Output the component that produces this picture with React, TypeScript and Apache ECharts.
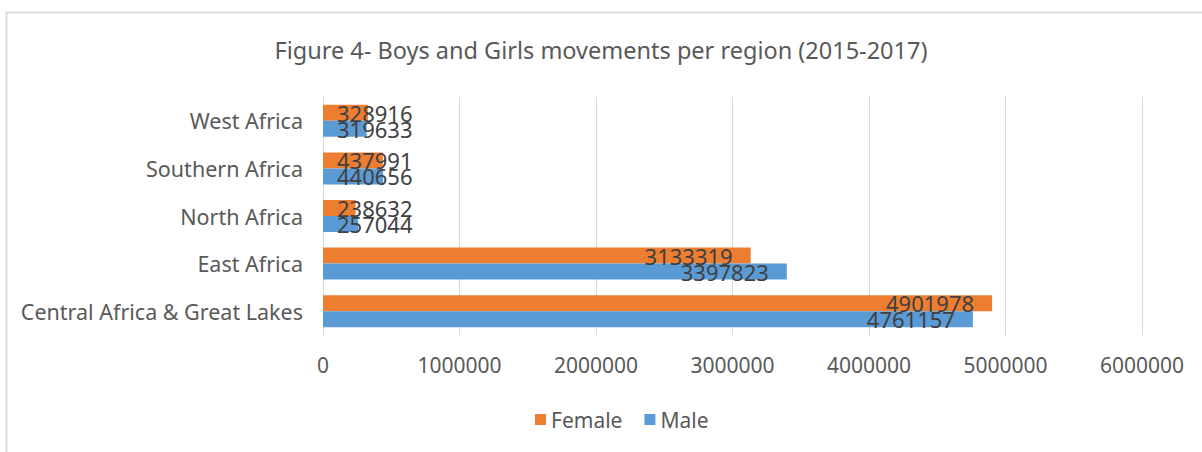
import React, { useEffect, useRef } from "react";
import * as echarts from "echarts";

const regions = ["West Africa", "Southern Africa", "North Africa", "East Africa", "Central Africa & Great Lakes"];
const female = [328916, 437991, 238632, 3133319, 4901978];
const male = [319633, 440656, 257044, 3397823, 4761157];
const xTicks = [0, 1000000, 2000000, 3000000, 4000000, 5000000, 6000000];
const title = "Figure 4- Boys and Girls movements per region (2015-2017)";

const FONT = "Noto Sans";
const TEXT = "#595959";

function labelFor(v: number) {
  const small = v < 1500000;
  return {
    show: true,
    position: small ? "insideLeft" : "insideRight",
    distance: small ? 14 : 18,
    color: "#404040",
    fontFamily: FONT,
    fontSize: 22,
    formatter: "{c}",
  };
}

export default function App() {
  const ref = useRef<HTMLDivElement>(null);
  useEffect(() => {
    const chart = echarts.init(ref.current!, undefined, { renderer: "svg" });
    chart.setOption({
      animation: false,
      backgroundColor: "#ffffff",
      title: {
        text: title,
        left: "center",
        top: 33,
        textStyle: { fontFamily: FONT, fontSize: 23.5, fontWeight: "normal", color: TEXT },
      },
      legend: {
        bottom: 17,
        left: 530,
        itemWidth: 11,
        itemHeight: 11,
        itemGap: 22,
        icon: "rect",
        textStyle: { fontFamily: FONT, fontSize: 21, color: TEXT },
        data: ["Female", "Male"],
      },
      grid: { left: 323, right: 60, top: 97, bottom: 117, containLabel: false },
      xAxis: {
        type: "value",
        min: xTicks[0],
        max: xTicks[xTicks.length - 1],
        interval: xTicks[1] - xTicks[0],
        axisLine: { show: false },
        axisTick: { show: false },
        splitLine: { show: true, lineStyle: { color: "#d9d9d9", width: 1 } },
        axisLabel: {
          fontFamily: FONT,
          fontSize: 21,
          color: TEXT,
          margin: 19,
          formatter: (v: number) => String(v),
        },
      },
      yAxis: {
        type: "category",
        data: regions,
        inverse: true,
        axisLine: { show: true, lineStyle: { color: "#d9d9d9" } },
        axisTick: { show: false },
        axisLabel: { fontFamily: FONT, fontSize: 21.5, color: TEXT, margin: 20 },
      },
      series: [
        {
          name: "Female",
          type: "bar",
          barWidth: 16,
          barGap: "0%",
          itemStyle: { color: "#ED7D31" },
          data: female.map((v) => ({ value: v, label: labelFor(v) })),
        },
        {
          name: "Male",
          type: "bar",
          barWidth: 16,
          barGap: "0%",
          itemStyle: { color: "#5B9BD5" },
          data: male.map((v) => ({ value: v, label: labelFor(v) })),
        },
      ],
      graphic: [
        {
          type: "polyline",
          shape: { points: [[6.5, 452], [6.5, 12.5], [1202, 12.5]] },
          style: { stroke: "#d9dde3", lineWidth: 2, fill: "none" },
          silent: true,
        },
      ],
    });
    return () => chart.dispose();
  }, []);
  return (
    <div
      ref={ref}
      style={{ position: "fixed", left: 0, top: 0, width: 1202, height: 452 }}
    />
  );
}
